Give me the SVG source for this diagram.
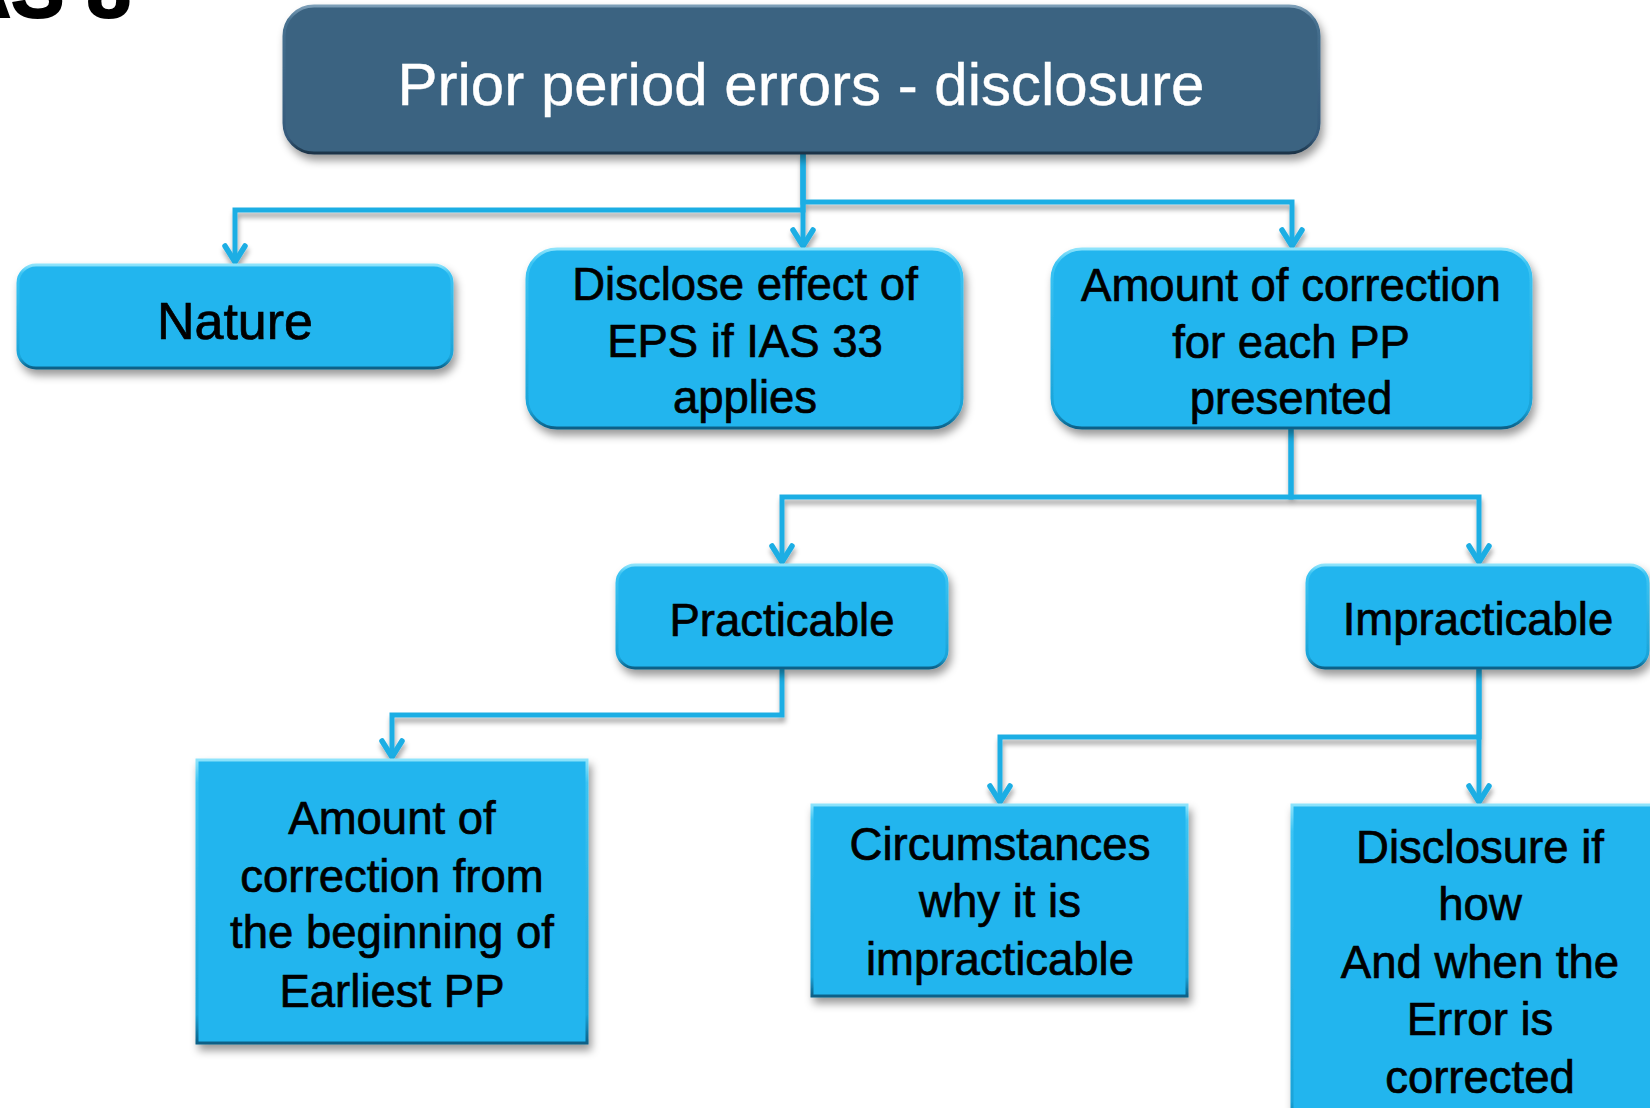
<svg xmlns="http://www.w3.org/2000/svg" width="1650" height="1108" viewBox="0 0 1650 1108">
  <style>
    .lbl { font-family: "Liberation Sans", Arial, sans-serif; font-size: 45.5px; fill: #000; stroke: #000; stroke-width: 0.7px; text-anchor: middle; }
    .lbl.big { font-size: 52px; }
    .title { font-family: "Liberation Sans", Arial, sans-serif; font-size: 60px; fill: #fff; stroke: #fff; stroke-width: 0.4px; text-anchor: middle; }
    .node { fill: #21b5ee; stroke: url(#bevel); stroke-width: 3; filter: url(#shadow); }
    .head { fill: #3b6381; stroke: url(#bevelDark); stroke-width: 3; filter: url(#shadow); }
    .wire { fill: none; stroke: #1eaee4; stroke-width: 5; stroke-linejoin: miter; marker-end: url(#arrow); }
  </style>
  <defs>
    <linearGradient id="bevel" x1="0" y1="0" x2="0" y2="1">
      <stop offset="0" stop-color="#8de3fb"/>
      <stop offset="0.08" stop-color="#3cc4f3"/>
      <stop offset="0.9" stop-color="#1aa3d8"/>
      <stop offset="1" stop-color="#0b5f86"/>
    </linearGradient>
    <linearGradient id="bevelDark" x1="0" y1="0" x2="0" y2="1">
      <stop offset="0" stop-color="#7d9fb8"/>
      <stop offset="0.1" stop-color="#46708f"/>
      <stop offset="0.9" stop-color="#34597a"/>
      <stop offset="1" stop-color="#1b3347"/>
    </linearGradient>
    <filter id="shadow" x="-10%" y="-10%" width="125%" height="135%">
      <feDropShadow dx="3" dy="6" stdDeviation="4" flood-color="#000" flood-opacity="0.4"/>
    </filter>
    <filter id="wireShadow" x="-5%" y="-20%" width="110%" height="160%">
      <feDropShadow dx="1" dy="5" stdDeviation="2.5" flood-color="#000" flood-opacity="0.35"/>
    </filter>
    <marker id="arrow" markerUnits="userSpaceOnUse" viewBox="-22 -14 28 28" markerWidth="28" markerHeight="28" refX="0" refY="0" orient="auto" overflow="visible">
      <path d="M-16,-10 L0,0 L-16,10" fill="none" stroke="#1eaee4" stroke-width="5.5" stroke-linecap="round" stroke-linejoin="round"/>
    </marker>
  </defs>

  <rect width="1650" height="1108" fill="#fff"/>

  <!-- heading, clipped at the top edge -->
  <text x="131" y="17" text-anchor="end" font-family="'Liberation Sans', Arial, sans-serif" font-size="80" font-weight="bold" fill="#000" stroke="#000" stroke-width="2">IAS 8</text>

  <!-- connectors -->
  <g id="connectors" filter="url(#wireShadow)">
    <path class="wire" d="M803,153 V210 H235 V262"/>
    <path class="wire" d="M803,153 V246"/>
    <path class="wire" d="M803,153 V202 H1292 V246"/>
    <path class="wire" d="M1291,428 V497 H782 V562"/>
    <path class="wire" d="M1291,428 V497 H1479 V562"/>
    <path class="wire" d="M782,668 V715 H392 V757"/>
    <path class="wire" d="M1479,668 V737 H1000 V802"/>
    <path class="wire" d="M1479,668 V802"/>
  </g>

  <g id="n-title">
    <rect class="head" x="284" y="6" width="1035" height="147" rx="30"/>
    <text class="title" x="801" y="105">Prior period errors - disclosure</text>
  </g>

  <g id="n-nature">
    <rect class="node" x="18" y="265" width="434" height="103" rx="18"/>
    <text class="lbl big" x="235" y="339">Nature</text>
  </g>

  <g id="n-eps">
    <rect class="node" x="527" y="249" width="435" height="179" rx="30"/>
    <text class="lbl" x="745" y="300">Disclose effect of</text>
    <text class="lbl" x="745" y="357">EPS if IAS 33</text>
    <text class="lbl" x="745" y="413">applies</text>
  </g>

  <g id="n-amount">
    <rect class="node" x="1052" y="249" width="479" height="179" rx="30"/>
    <text class="lbl" x="1291" y="301">Amount of correction</text>
    <text class="lbl" x="1291" y="358">for each PP</text>
    <text class="lbl" x="1291" y="414">presented</text>
  </g>

  <g id="n-practicable">
    <rect class="node" x="617" y="565" width="330" height="103" rx="18"/>
    <text class="lbl" x="782" y="636">Practicable</text>
  </g>

  <g id="n-impracticable">
    <rect class="node" x="1307" y="565" width="341" height="103" rx="18"/>
    <text class="lbl" x="1478" y="635">Impracticable</text>
  </g>

  <g id="n-earliest">
    <rect class="node" x="197" y="760" width="390" height="283"/>
    <text class="lbl" x="392" y="834">Amount of</text>
    <text class="lbl" x="392" y="892">correction from</text>
    <text class="lbl" x="392" y="948">the beginning of</text>
    <text class="lbl" x="392" y="1007">Earliest PP</text>
  </g>

  <g id="n-circumstances">
    <rect class="node" x="812" y="805" width="375" height="191"/>
    <text class="lbl" x="1000" y="860">Circumstances</text>
    <text class="lbl" x="1000" y="917">why it is</text>
    <text class="lbl" x="1000" y="975">impracticable</text>
  </g>

  <g id="n-disclosure">
    <rect class="node" x="1292" y="805" width="374" height="330"/>
    <text class="lbl" x="1480" y="863">Disclosure if</text>
    <text class="lbl" x="1480" y="920">how</text>
    <text class="lbl" x="1480" y="978">And when the</text>
    <text class="lbl" x="1480" y="1035">Error is</text>
    <text class="lbl" x="1480" y="1093">corrected</text>
  </g>
</svg>
